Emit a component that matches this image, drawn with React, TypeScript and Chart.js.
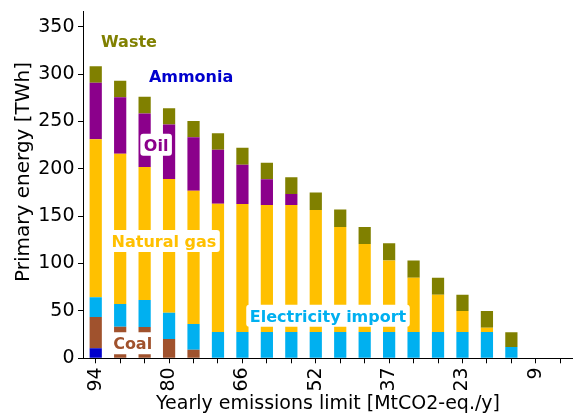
import React, { useEffect, useRef } from "react";
import { Chart, registerables } from "chart.js";

Chart.register(...registerables);

// Yearly emissions limit [MtCO2-eq./y] (only every third one is labelled)
const categories = ["94", "89", "85", "80", "75", "71", "66", "61", "57", "52", "47", "42", "37", "33", "28", "23", "19", "14", "9", "5"];

// Primary energy per source [TWh], stacked bottom to top
const ammonia = [10.6, 0, 0, 0, 0, 0, 0, 0, 0, 0, 0, 0, 0, 0, 0, 0, 0, 0, 0, 0];
const coal = [33, 33.4, 33, 20.5, 9, 0, 0, 0, 0, 0, 0, 0, 0, 0, 0, 0, 0, 0, 0, 0];
const electricityImport = [20.8, 23.9, 28.6, 27.5, 27.3, 27.8, 27.8, 27.8, 27.8, 27.8, 27.8, 27.8, 27.8, 27.8, 27.8, 27.8, 27.8, 11.9, 0, 0];
const naturalGas = [166.9, 158.7, 140.4, 141.3, 140.6, 135.2, 135, 134.1, 134.1, 128.8, 110.8, 92.9, 75.3, 57.3, 39.4, 22.1, 4.5, 0, 0, 0];
const oil = [59.4, 59.6, 56.3, 57.4, 56.4, 57, 41.4, 27.1, 11.6, 0, 0, 0, 0, 0, 0, 0, 0, 0, 0, 0];
const waste = [17.6, 17.2, 17.7, 17.3, 17.2, 17.6, 18, 17.5, 17.6, 18.3, 18.4, 17.9, 18.3, 18, 17.9, 17.3, 17.6, 15.6, 0, 0];

const seriesNames = ["Ammonia", "Coal", "Electricity import", "Natural gas", "Oil", "Waste"];
const seriesColors = ["#0000CD", "#A0522D", "#00B0F0", "#FFC000", "#8B008B", "#808000"];

// In-plot labels: text, position (category index, TWh), colour
const labelTexts = ["Waste", "Ammonia", "Oil", "Natural gas", "Coal", "Electricity import"];
const labelXIndex = [1.36, 3.9, 2.47, 2.79, 1.51, 9.5];
const labelYValue = [334.2, 297.2, 225.4, 123.8, 15.8, 44.9];
const labelColors = ["#808000", "#0000CD", "#8B008B", "#FFC000", "#A0522D", "#00B0F0"];

const yTicks = [0, 50, 100, 150, 200, 250, 300, 350];
const yMax = 366;
const yTitle = "Primary energy [TWh]";
const xTitle = "Yearly emissions limit [MtCO2-eq./y]";

const FONT = '"DejaVu Sans", sans-serif';

const labelPlugin = {
  id: "seriesLabels",
  afterDatasetsDraw(chart: any) {
    const { ctx, scales, chartArea } = chart;
    const x = scales.x;
    const y = scales.y;
    ctx.save();
    ctx.font = `bold 16px ${FONT}`;
    ctx.textAlign = "center";
    ctx.textBaseline = "alphabetic";
    labelTexts.forEach((t, i) => {
      const px = x.getPixelForValue(labelXIndex[i]);
      const py = y.getPixelForValue(labelYValue[i]);
      const w = ctx.measureText(t).width;
      const bw = w + 7;
      const bh = 22;
      ctx.fillStyle = "#ffffff";
      ctx.beginPath();
      if (ctx.roundRect) ctx.roundRect(px - bw / 2, py - bh / 2, bw, bh, 3);
      else ctx.rect(px - bw / 2, py - bh / 2, bw, bh);
      ctx.fill();
      ctx.fillStyle = labelColors[i];
      ctx.fillText(t, px, py + 5.8);
    });
    // y-axis title
    ctx.save();
    ctx.translate(23.5, (chartArea.top + chartArea.bottom) / 2 - 13);
    ctx.rotate(-Math.PI / 2);
    ctx.font = `20px ${FONT}`;
    ctx.fillStyle = "#000";
    ctx.textAlign = "center";
    ctx.textBaseline = "middle";
    ctx.fillText(yTitle, 0, 0);
    ctx.restore();
    ctx.restore();
  },
};

export default function App() {
  const canvasRef = useRef<HTMLCanvasElement | null>(null);

  useEffect(() => {
    const canvas = canvasRef.current;
    if (!canvas) return;
    const values = [ammonia, coal, electricityImport, naturalGas, oil, waste];
    const chart = new Chart(canvas, {
      type: "bar",
      data: {
        labels: categories,
        datasets: values.map((d, i) => ({
          label: seriesNames[i],
          data: d,
          backgroundColor: seriesColors[i],
          borderWidth: 0,
          barPercentage: 0.5,
          categoryPercentage: 1,
        })),
      },
      options: {
        responsive: false,
        animation: false,
        devicePixelRatio: 1,
        layout: { padding: { top: 11.5, right: 3.5, left: 0, bottom: 0 } },
        plugins: {
          legend: { display: false },
          tooltip: { enabled: false },
          title: { display: false },
        },
        scales: {
          x: {
            stacked: true,
            offset: true,
            grid: {
              offset: false,
              drawOnChartArea: false,
              drawTicks: true,
              tickLength: 5,
              color: "#000",
              lineWidth: 1,
            },
            border: { display: true, color: "#000", width: 1 },
            ticks: {
              autoSkip: false,
              minRotation: 90,
              maxRotation: 90,
              padding: 4,
              color: "#000",
              font: { family: FONT, size: 19 },
              callback: (_v: any, idx: number) => (idx % 3 === 0 ? categories[idx] : ""),
            },
            title: {
              display: true,
              text: xTitle,
              color: "#000",
              font: { family: FONT, size: 19 },
              padding: { top: 0, bottom: 2.6 },
            },
            afterFit: (scale: any) => {
              scale.height = 59.7;
              scale.paddingLeft = 0;
              scale.paddingRight = 0;
            },
          },
          y: {
            stacked: true,
            min: 0,
            max: yMax,
            grid: {
              drawOnChartArea: false,
              drawTicks: true,
              tickLength: 5.5,
              color: "#000",
              lineWidth: 1,
            },
            border: { display: true, color: "#000", width: 1 },
            ticks: {
              padding: 3.5,
              color: "#000",
              font: { family: FONT, size: 19 },
            },
            afterBuildTicks: (scale: any) => {
              scale.ticks = yTicks.map((v) => ({ value: v }));
            },
            title: { display: false },
            afterFit: (scale: any) => {
              scale.width = 83.5;
              scale.paddingTop = 0;
              scale.paddingBottom = 0;
            },
          },
        },
      },
      plugins: [labelPlugin],
    });
    return () => chart.destroy();
  }, []);

  return (
    <div style={{ position: "absolute", left: 0, top: 0, width: 576, height: 418, background: "#fff" }}>
      <canvas ref={canvasRef} width={576} height={418} />
    </div>
  );
}
